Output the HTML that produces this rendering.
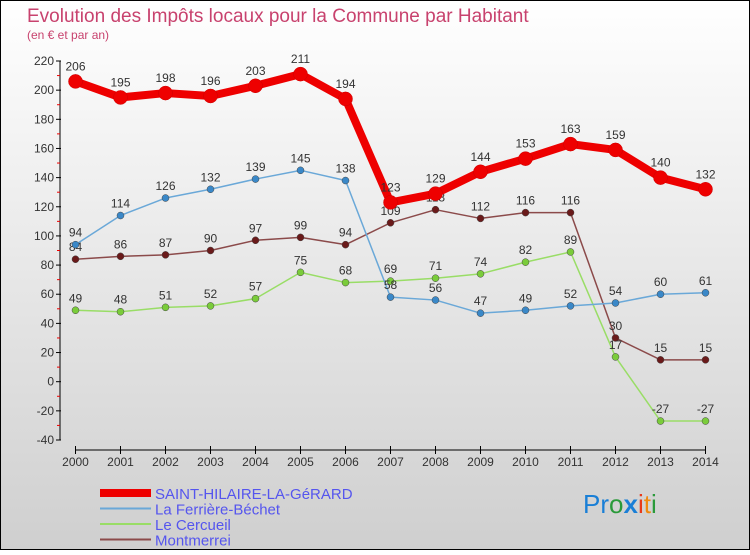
<!DOCTYPE html>
<html><head><meta charset="utf-8"><style>
html,body{margin:0;padding:0}
body{width:750px;height:550px;overflow:hidden;font-family:"Liberation Sans",sans-serif}
</style></head><body>
<svg width="750" height="550" xmlns="http://www.w3.org/2000/svg">
<defs><linearGradient id="bg" x1="0" y1="0" x2="0" y2="1"><stop offset="0" stop-color="#ffffff"/><stop offset="1" stop-color="#cfcfcf"/></linearGradient></defs>
<rect x="0.5" y="0.5" width="749" height="549" fill="url(#bg)" stroke="#000"/>
<text x="27" y="22" font-size="19" fill="#c8426e">Evolution des Impôts locaux pour la Commune par Habitant</text>
<text x="27" y="39" font-size="12" fill="#c8426e">(en € et par an)</text>
<g id="axes"></g>
<g id="series"></g>
<g id="legend"></g>
<g font-size="26" font-family="Liberation Sans, sans-serif">
<text x="583" y="513"><tspan fill="#1a7fd6">Pr</tspan><tspan fill="#2a9a3a">o</tspan><tspan fill="#1a7fd6" font-weight="bold">x</tspan><tspan fill="#e83a1a">i</tspan><tspan fill="#f08a10">t</tspan><tspan fill="#2a9a3a">i</tspan></text>
</g>
</svg>
<script>
const years=[2000,2001,2002,2003,2004,2005,2006,2007,2008,2009,2010,2011,2012,2013,2014];
const yTicks=[-40,-20,0,20,40,60,80,100,120,140,160,180,200,220];
const sHilaire=[206,195,198,196,203,211,194,123,129,144,153,163,159,140,132];
const ferriere=[94,114,126,132,139,145,138,58,56,47,49,52,54,60,61];
const cercueil=[49,48,51,52,57,75,68,69,71,74,82,89,17,-27,-27];
const montmerrei=[84,86,87,90,97,99,94,109,118,112,116,116,30,15,15];
const NS="http://www.w3.org/2000/svg";
const X=i=>75.5+i*45;
const Y=v=>61+(220-v)*379/260;
function mk(t,a,p){const e=document.createElementNS(NS,t);for(const k in a)e.setAttribute(k,a[k]);p.appendChild(e);return e;}
const ax=document.getElementById('axes');
let yl=mk('line',{x1:60,y1:Y(220),x2:60,y2:Y(-40),stroke:'#000'},ax);


yTicks.forEach(v=>{
 mk('line',{x1:56,x2:61,y1:Y(v),y2:Y(v),stroke:'#000'},ax);
 if(v<220) mk('line',{x1:57,x2:60,y1:Y(v+10),y2:Y(v+10),stroke:'#e00'},ax);
 const t=mk('text',{x:54,y:Y(v)+4,'text-anchor':'end','font-size':12,fill:'#333'},ax);
 t.textContent=v;
 
 
});
let xl=mk('line',{x1:X(0),y1:450,x2:X(14),y2:450,stroke:'#000'},ax);


years.forEach((yr,i)=>{
 mk('line',{x1:X(i),x2:X(i),y1:446,y2:454,stroke:'#000'},ax);
 const t=mk('text',{x:X(i),y:466,'text-anchor':'middle','font-size':12,fill:'#333'},ax);
 t.textContent=yr;
 
 
});
const sg=document.getElementById('series');
const defs=[
 {d:montmerrei,c:'#8b4a4a',dot:'#6a1a1a',w:1.5,r:3.5,n:'montmerrei'},
 {d:cercueil,c:'#99dd66',dot:'#7acc3a',w:1.5,r:3.5,n:'le-cercueil'},
 {d:ferriere,c:'#6aa8d8',dot:'#3a88c8',w:1.5,r:3.5,n:'la-ferriere-bechet'},
 {d:sHilaire,c:'#ee0000',dot:'#ee0000',w:8,r:7,n:'saint-hilaire'}
];
defs.forEach(s=>{
 const g=mk('g',{},sg);
 
 
 const p=mk('polyline',{points:s.d.map((v,i)=>X(i)+','+Y(v)).join(' '),fill:'none',stroke:s.c,'stroke-width':s.w,'stroke-linejoin':'round'},g);
 
 
 s.d.forEach((v,i)=>{
  const c=mk('circle',{cx:X(i),cy:Y(v),r:s.r,fill:s.dot,stroke:s.w>4?'#c00':'#444','stroke-width':0.5},g);
  
  
  const t=mk('text',{x:X(i),y:Y(v)-(s.w>4?11:8),'text-anchor':'middle','font-size':12,fill:'#333'},g);
  t.textContent=v;
  
  
 });
});
const lg=document.getElementById('legend');
const items=[['SAINT-HILAIRE-LA-GéRARD','#ee0000',8],['La Ferrière-Béchet','#6aa8d8',2],['Le Cercueil','#99dd66',2],['Montmerrei','#8b4a4a',2]];
items.forEach((it,k)=>{
 const y=493+k*15.5;
 const g=mk('g',{},lg);
 
 
 mk('line',{x1:100,x2:151,y1:y,y2:y,stroke:it[1],'stroke-width':it[2]},g);
 const t=mk('text',{x:155,y:y+6,'font-size':15,fill:'#5555ee'},g);
 t.textContent=it[0];
 
 
});
</script>
</body></html>
